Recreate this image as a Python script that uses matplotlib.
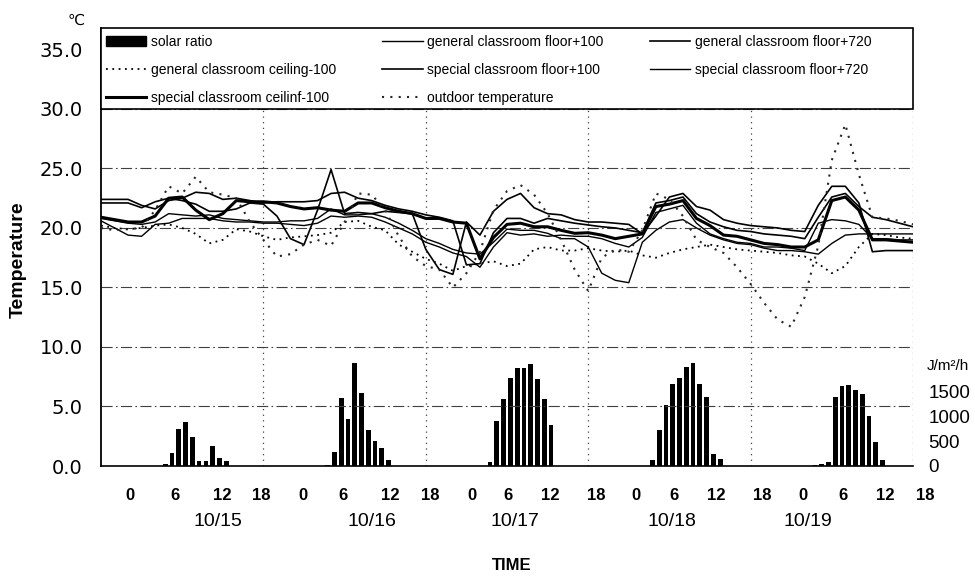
import numpy as np
import matplotlib
matplotlib.use("Agg")
import matplotlib.pyplot as plt
from matplotlib.patches import Patch, Rectangle

# ---------------- data ----------------
hours = list(range(0, 121, 2))

gen_floor100 = [20.8, 20.6, 20.4, 20.3, 20.5, 21.2, 21.1, 21.0, 21.1, 20.8, 20.7, 20.6, 20.5,
                20.5, 20.6, 20.6, 20.8, 21.6, 21.1, 21.1, 21.2, 20.9, 20.4, 19.8, 19.1,
                18.7, 18.2, 17.9, 17.8, 18.8, 19.9, 19.8, 19.8, 19.55, 19.1, 19.1, 18.4,
                16.2, 15.6, 15.4, 18.8, 19.8, 20.5, 20.7, 20.0, 19.4, 19.0, 18.7, 18.6,
                18.3, 18.1, 18.1, 18.0, 17.8, 18.7, 19.4, 19.5, 19.5, 19.5, 19.5, 19.5]
gen_floor720 = [22.4, 22.4, 22.4, 21.9, 21.6, 22.3, 22.5, 23.0, 22.9, 22.4, 22.5, 22.3, 22.1,
                22.2, 22.2, 22.2, 22.3, 22.9, 23.0, 22.5, 22.3, 21.9, 21.6, 21.4, 21.1,
                20.9, 20.6, 16.9, 17.0, 19.6, 20.8, 20.8, 20.4, 20.8, 20.6, 20.4, 20.25,
                20.1, 20.0, 19.8, 19.6, 22.1, 22.3, 22.6, 21.2, 20.5, 20.1, 19.8, 19.7,
                19.5, 19.4, 19.3, 19.1, 20.9, 22.6, 22.9, 21.8, 20.9, 20.7, 20.4, 20.1]
gen_ceiling100 = [20.2, 20.0, 19.9, 20.0, 20.2, 20.3, 20.0, 19.5, 18.7, 19.0, 19.9, 19.7, 19.3,
                  19.0, 19.2, 19.3, 19.4, 19.6, 20.5, 20.6, 20.1, 19.8, 18.6, 18.0, 17.4,
                  17.0, 16.4, 16.8, 17.0, 17.2, 16.8, 17.0, 18.2, 18.4, 18.1, 18.1, 18.3,
                  18.1, 18.0, 18.1, 17.7, 17.5, 17.9, 18.2, 18.4, 18.6, 18.4, 18.2, 18.1,
                  18.0, 17.9, 17.7, 17.6, 17.0, 16.2, 16.8, 18.4, 19.5, 19.4, 19.2, 19.1]
spe_floor100 = [22.1, 22.1, 22.1, 21.7, 22.2, 22.5, 22.3, 22.0, 21.4, 21.4, 21.6, 22.1, 22.0,
                21.0, 19.1, 18.6, 21.5, 24.9, 21.2, 21.3, 21.2, 21.4, 21.3, 21.2, 18.2,
                16.5, 16.1, 20.5, 19.4, 21.4, 22.4, 22.9, 21.7, 21.2, 21.1, 20.7, 20.5,
                20.5, 20.4, 20.3, 19.5, 21.0, 22.6, 22.9, 21.8, 21.5, 20.7, 20.4, 20.2,
                20.1, 20.0, 19.8, 19.7, 21.9, 23.5, 23.5, 22.1, 18.0, 18.1, 18.1, 18.1]
spe_floor720 = [20.6, 20.0, 19.4, 19.3, 20.3, 20.4, 20.8, 20.8, 20.8, 20.6, 20.5, 20.5, 20.4,
                20.4, 20.3, 20.2, 20.4, 21.0, 20.9, 21.0, 20.9, 20.5, 20.0, 19.5, 18.8,
                18.4, 17.9, 17.6, 16.7, 18.4, 19.6, 19.4, 19.5, 19.3, 19.4, 19.3, 19.3,
                19.1, 18.7, 18.4, 19.2, 21.3, 21.6, 21.9, 20.4, 19.5, 19.1, 18.8, 18.7,
                18.4, 18.4, 18.3, 18.1, 20.4, 20.7, 20.6, 20.3, 19.1, 19.1, 19.0, 19.0]
spe_ceiling100 = [20.9, 20.7, 20.5, 20.5, 21.0, 22.5, 22.6, 21.5, 20.7, 21.2, 22.3, 22.2, 22.2,
                  22.1, 21.8, 21.6, 21.7, 21.5, 21.4, 22.1, 22.1, 21.7, 21.4, 21.2, 20.8,
                  20.8, 20.5, 20.4, 17.4, 19.2, 20.3, 20.4, 20.1, 20.1, 19.8, 19.55, 19.6,
                  19.4, 19.1, 19.3, 19.5, 21.8, 22.0, 22.3, 20.8, 20.2, 19.4, 19.3, 19.0,
                  18.7, 18.6, 18.4, 18.4, 19.0, 22.3, 22.6, 21.5, 19.0, 19.0, 18.9, 18.8]
outdoor = [20.0, 19.8, 19.9, 20.0, 21.5, 23.5, 22.9, 24.3, 23.0, 22.8, 22.5, 20.5, 19.0,
           17.6, 17.8, 18.6, 19.0, 18.5, 20.5, 22.9, 22.8, 21.5, 19.3, 17.6, 16.8,
           16.5, 15.0, 16.2, 18.0, 21.5, 23.1, 23.6, 22.8, 21.2, 19.0, 16.5, 14.7,
           17.5, 18.2, 18.0, 19.8, 22.9, 22.4, 21.0, 19.0, 18.4, 17.9, 16.7, 15.3,
           13.7, 12.3, 11.7, 14.2, 18.5, 25.7, 28.7, 24.5, 20.9, 20.8, 20.6, 20.3]

solar_hours = [9, 10, 11, 12, 13, 14, 15, 16, 17, 18,
               33, 34, 35, 36, 37, 38, 39, 40, 41, 42,
               57, 58, 59, 60, 61, 62, 63, 64, 65, 66,
               81, 82, 83, 84, 85, 86, 87, 88, 89, 90, 91,
               105, 106, 107, 108, 109, 110, 111, 112, 113, 114, 115]
solar = [50, 260, 750, 880, 590, 110, 110, 410, 160, 110,
         27, 290, 1365, 945, 2070, 1475, 730, 510, 365, 128,
         80, 910, 1345, 1775, 1980, 1980, 2060, 1760, 1360, 820,
         115, 720, 1230, 1660, 1770, 2000, 2080, 1660, 1390, 250, 135,
         20, 47, 87, 1395, 1615, 1635, 1530, 1450, 1010, 490, 115]

hour_labels = ["0", "6", "12", "18"] * 5
date_labels = ["10/15", "10/16", "10/17", "10/18", "10/19"]
temp_ticks = [0, 5, 10, 15, 20, 25, 30, 35]
solar_ticks = [0, 500, 1000, 1500]

# ---------------- figure ----------------
plt.rcParams['font.family'] = ['Liberation Sans', 'DejaVu Sans']
W, H = 975, 577
fig = plt.figure(figsize=(W / 100, H / 100), dpi=100)
x0, x1, y0, y1 = 101, 913, 466, 28
ax = fig.add_axes([x0 / W, 1 - y0 / H, (x1 - x0) / W, (y0 - y1) / H])
ax2 = ax.twinx()

TMAX = 36.8
J_PER_DEG = 240.0
ax.set_xlim(0, 120)
ax.set_ylim(0, TMAX)
ax2.set_ylim(0, TMAX * J_PER_DEG)

# bars (solar)
ax2.bar(np.array(solar_hours) + 0.5, solar, width=0.7, color='black', zorder=2)
ax2.set_yticks(solar_ticks)
ax2.set_yticklabels([str(v) for v in solar_ticks], fontsize=13.5)
ax2.tick_params(axis='y', length=0, pad=11)
for s in ax2.spines.values():
    s.set_visible(False)

ax.set_zorder(ax2.get_zorder() + 1)
ax.patch.set_visible(False)

# gridlines
for yv in temp_ticks[1:-1]:
    ax.axhline(yv, color='0.25', lw=0.8, ls=(0, (10, 3, 1.5, 3)), zorder=0)
for d in range(1, 6):
    ax.axvline(24 * d, color='0.25', lw=0.9, ls=(0, (1, 3.5)), zorder=0)

# lines
l_gf100, = ax.plot(hours, gen_floor100, color='black', lw=1.0,
                   label='general classroom floor+100', zorder=3)
l_gf720, = ax.plot(hours, gen_floor720, color='black', lw=1.2,
                   label='general classroom floor+720', zorder=3)
l_gc100, = ax.plot(hours, gen_ceiling100, color='black', lw=1.3, ls=(0, (1, 2.5)),
                   label='general classroom ceiling-100', zorder=3)
l_sf100, = ax.plot(hours, spe_floor100, color='black', lw=1.2,
                   label='special classroom floor+100', zorder=3)
l_sf720, = ax.plot(hours, spe_floor720, color='black', lw=1.0,
                   label='special classroom floor+720', zorder=3)
l_sc100, = ax.plot(hours, spe_ceiling100, color='black', lw=2.2,
                   label='special classroom ceilinf-100', zorder=3)
l_out, = ax.plot(hours, outdoor, color='0.15', lw=1.5, ls=(0, (1, 3)),
                 label='outdoor temperature', zorder=3)

# axes styling
ax.set_yticks(temp_ticks)
ax.set_yticklabels([f"{v:.1f}" for v in temp_ticks], fontsize=14, family=['DejaVu Sans'])
ax.tick_params(axis='y', length=0, pad=13)
ax.set_xticks([])
for side in ['top', 'right']:
    ax.spines[side].set_visible(False)
ax.spines['left'].set_linewidth(1.3)
ax.spines['bottom'].set_linewidth(1.2)

# legend box (full width, from 30.0 up to the top of the plot)
box = Rectangle((0, 30), 120, TMAX - 30, transform=ax.transData, facecolor='white',
                edgecolor='black', lw=1.2, zorder=9, clip_on=False)
ax.add_patch(box)

solar_patch = Patch(facecolor='black', edgecolor='black', label='solar ratio')
handles = [solar_patch, l_gc100, l_sc100, l_gf100, l_sf100, l_out, l_gf720, l_sf720]
leg = ax.legend(handles=handles, labels=[h.get_label() for h in handles],
                loc='upper left', bbox_to_anchor=(5 / 812, 1 - 7 / 438), ncol=3,
                frameon=False, borderaxespad=0, borderpad=0, fontsize=10,
                handlelength=2.9, handleheight=0.8, labelspacing=1.0,
                handletextpad=0.35, columnspacing=3.3)
leg.set_zorder(10)

# x labels (hour-of-day row and dates)
hour_px = [130, 175, 222, 261, 303, 343, 390, 430, 472, 508,
           550, 596, 636, 674, 716, 762, 803, 843, 885, 925]
for lab, px in zip(hour_labels, hour_px):
    fig.text(px / W, 1 - 496 / H, lab, ha='center', va='center', fontsize=12,
             fontweight='bold')
for lab, px in zip(date_labels, [218, 372, 515, 672, 808]):
    fig.text(px / W, 1 - 522 / H, lab, ha='center', va='center', fontsize=14)
fig.text(512 / W, 1 - 566 / H, 'TIME', ha='center', va='center', fontsize=12, fontweight='bold')
fig.text(18 / W, 1 - 260 / H, 'Temperature', ha='center', va='center', rotation=90,
         fontsize=14, fontweight='bold')
fig.text(76 / W, 1 - 20 / H, '\u2103', ha='center', va='center', fontsize=11,
         family=['DejaVu Sans'])
fig.text(948 / W, 1 - 366 / H, 'J/m\u00b2/h', ha='center', va='center', fontsize=11)

fig.savefig('out.png', dpi=100, facecolor='white')
